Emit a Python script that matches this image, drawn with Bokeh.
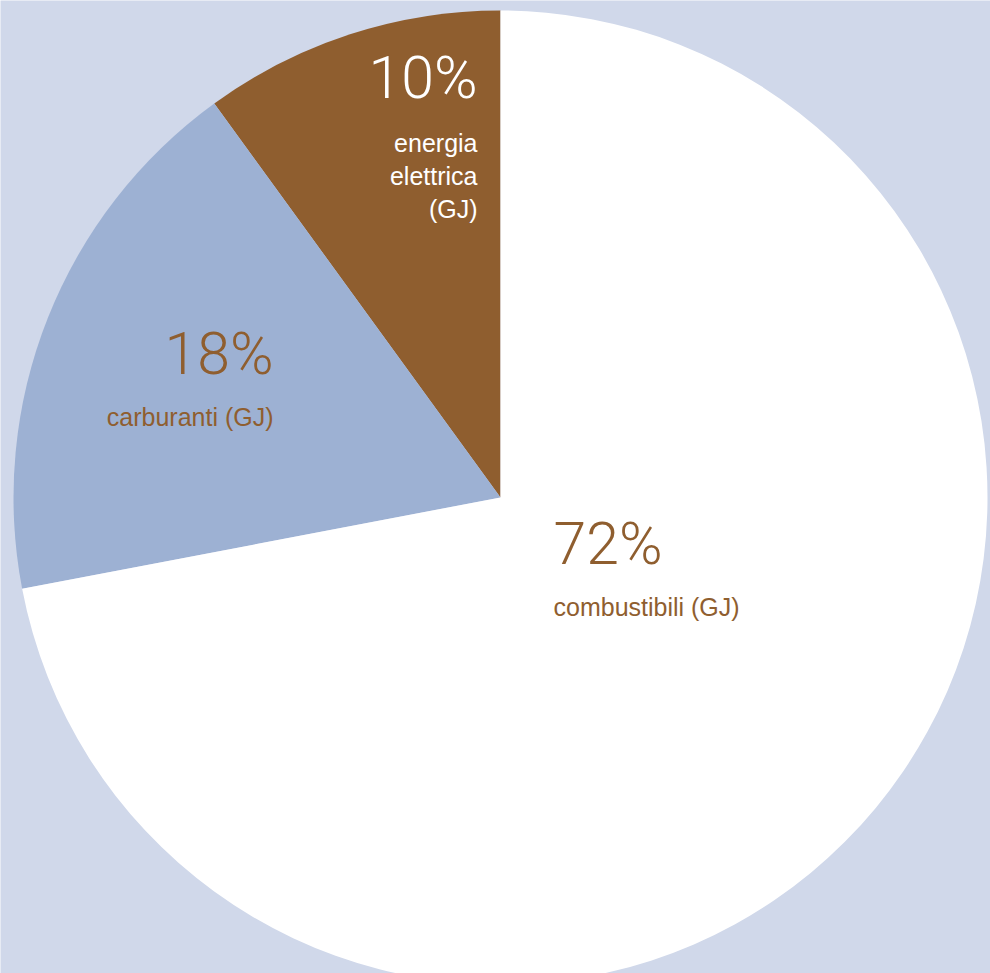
import numpy as np
from bokeh.plotting import figure
from bokeh.models import Range1d, ColumnDataSource
from bokeh.core.properties import value
from bokeh.embed import file_html
from bokeh.resources import INLINE

# data (counter-clockwise order starting from 12 o'clock)
categories = ["energia elettrica", "carburanti", "combustibili"]
shares = [10, 18, 72]
pct_labels = ["10%", "18%", "72%"]
name_labels = [["energia", "elettrica", "(GJ)"], ["carburanti (GJ)"], ["combustibili (GJ)"]]
colors = ["#8f5e2f", "#9db1d3", "#ffffff"]

W, H = 990, 973
BG = "#d0d8ea"
BROWN = "#8f5e2f"

def py(page_y):
    return H - page_y

def px(page_x):
    return page_x

cx, cy, r = px(500), py(497), 487

frac = np.array(shares, dtype=float) / sum(shares)
ends = np.pi / 2 + np.cumsum(frac) * 2 * np.pi
starts = np.concatenate([[np.pi / 2], ends[:-1]])

src = ColumnDataSource(dict(cat=categories, start=starts, end=ends, color=colors))

p = figure(width=W, height=H, output_backend="svg", toolbar_location=None,
           x_range=Range1d(0, W), y_range=Range1d(0, H), min_border=0)
p.axis.visible = False
p.grid.visible = False
p.outline_line_color = None
p.background_fill_color = BG
p.border_fill_color = BG

p.wedge(x=cx, y=cy, radius=r, start_angle="start", end_angle="end",
        fill_color="color", line_color=None, source=src)

PFONT = value("'Roboto Light', Roboto, 'Liberation Sans', sans-serif")
LFONT = value("'Liberation Sans', Arial, sans-serif")

# label anchors (page coords): pct (x, y), align, text colour, name first line y
anchors = [
    (477, 77, "right", "#ffffff", 142),
    (273, 353, "right", BROWN, 416),
    (553, 543, "left", BROWN, 606),
]
for (ax, ay, al, col, ny), pl, nl in zip(anchors, pct_labels, name_labels):
    p.text(x=[px(ax)], y=[py(ay)], text=[pl], text_align=al, text_baseline="alphabetic",
           text_color=col, text_font=PFONT, text_font_size="59px")
    for i, line in enumerate(nl):
        p.text(x=[px(ax)], y=[py(ny + 33 * i)], text=[line], text_align=al,
               text_baseline="alphabetic", text_color=col, text_font=LFONT,
               text_font_size="25px")

open("out.html", "w").write(file_html(p, INLINE))
